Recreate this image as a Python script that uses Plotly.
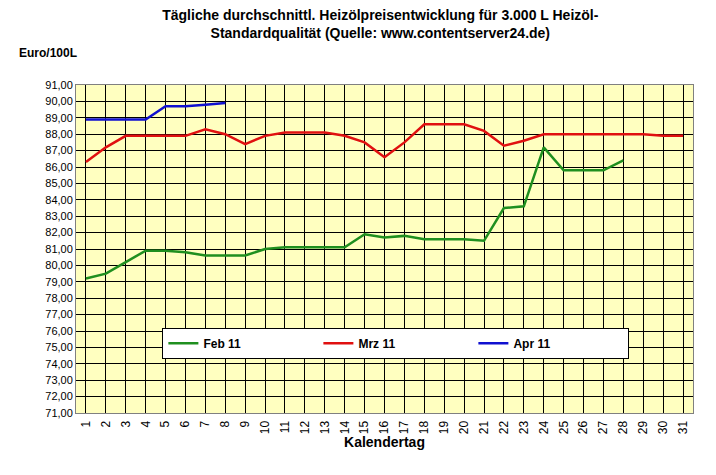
import plotly.graph_objects as go

days = list(range(1, 32))
feb = [79.2, 79.5, 80.2, 80.9, 80.9, 80.8, 80.6, 80.6, 80.6, 81.0, 81.1, 81.1, 81.1, 81.1,
       81.9, 81.7, 81.8, 81.6, 81.6, 81.6, 81.5, 83.5, 83.6, 87.2, 85.8, 85.8, 85.8, 86.4]
mrz = [86.3, 87.2, 87.9, 87.9, 87.9, 87.9, 88.3, 88.0, 87.4, 87.9, 88.1, 88.1, 88.1, 87.9,
       87.5, 86.6, 87.5, 88.6, 88.6, 88.6, 88.2, 87.3, 87.6, 88.0, 88.0, 88.0, 88.0, 88.0,
       88.0, 87.9, 87.9]
apr = [88.9, 88.9, 88.9, 88.9, 89.7, 89.7, 89.8, 89.9]

fig = go.Figure()
fig.add_trace(go.Scatter(x=days[:len(feb)], y=feb, name="<b>Feb 11</b>", mode="lines",
                         line=dict(color="#1f8f1f", width=2.5)))
fig.add_trace(go.Scatter(x=days[:len(mrz)], y=mrz, name="<b>Mrz 11</b>", mode="lines",
                         line=dict(color="#e01010", width=2.5)))
fig.add_trace(go.Scatter(x=days[:len(apr)], y=apr, name="<b>Apr 11</b>", mode="lines",
                         line=dict(color="#1010d0", width=2.5)))

fig.update_layout(
    width=716, height=475, separators=",.",
    paper_bgcolor="white", plot_bgcolor="#ffffc0",
    font=dict(family="Arial, Liberation Sans", size=12, color="black"),
    margin=dict(l=68, r=31, t=77, b=64),
    title=dict(text="<b>Tägliche durchschnittl. Heizölpreisentwicklung für 3.000 L Heizöl-<br>Standardqualität (Quelle: www.contentserver24.de)</b>",
               x=0.52, xanchor="center", y=0.975, yanchor="top", font=dict(size=14)),
    xaxis=dict(range=[0.5, 31.5], tickvals=days, tickangle=-90, showgrid=True,
               gridcolor="black", gridwidth=1, showline=True, linecolor="gray", mirror=True,
               tickfont=dict(size=12), ticklabelstandoff=2,
               title=dict(text="<b>Kalendertag</b>", font=dict(size=14), standoff=0)),
    yaxis=dict(range=[71, 91], dtick=1, tickformat=".2f", showgrid=True,
               gridcolor="black", gridwidth=1, showline=True, linecolor="gray", mirror=True,
               tickfont=dict(size=11)),
    legend=dict(orientation="h", x=0.14, y=0.26, xanchor="left", yanchor="top",
                bgcolor="white", bordercolor="black", borderwidth=1,
                font=dict(size=12), entrywidth=110),
    annotations=[dict(text="<b>Euro/100L</b>", x=-0.095, y=1.07, xref="paper", yref="paper",
                      xanchor="left", yanchor="bottom", showarrow=False)],
)
fig.update_layout(margin=dict(b=70))
fig.write_html("out.html")
